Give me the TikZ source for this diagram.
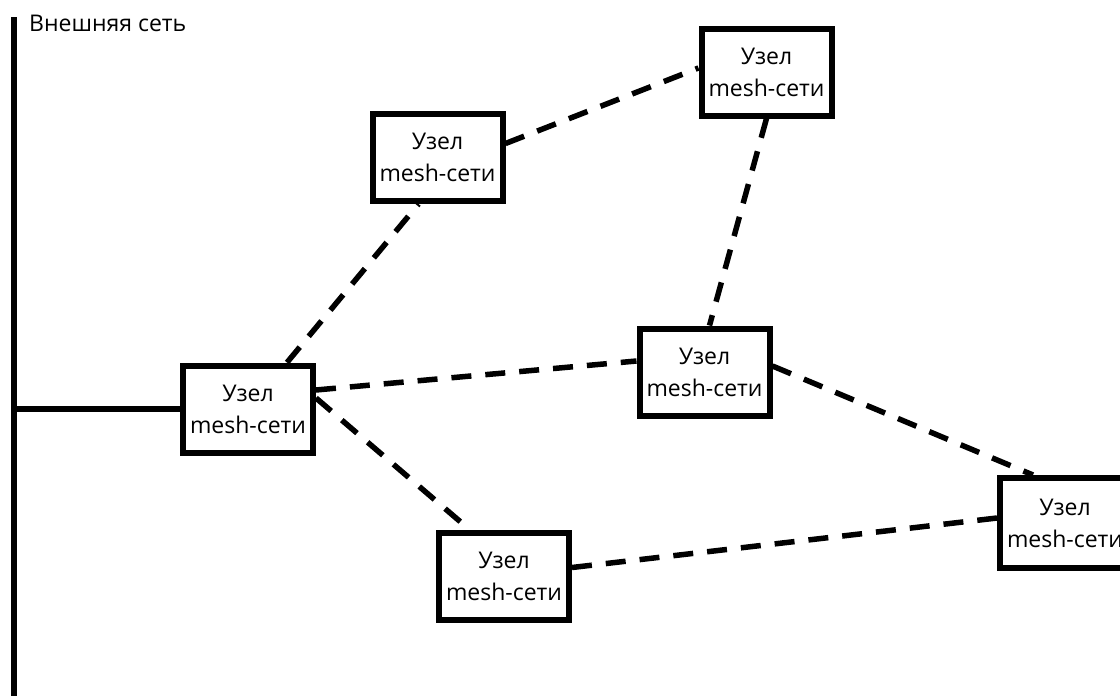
\documentclass[tikz,border=0pt]{standalone}
\usepackage{fontspec}
\setmainfont{Open Sans}
\begin{document}
\begin{tikzpicture}[x=1pt,y=-1pt,
  meshnode/.style={draw=black, line width=6pt, fill=white, rectangle,
    minimum width=130pt, minimum height=87pt, inner sep=0pt,
    align=center, font=\fontsize{23}{32}\selectfont},
  wire/.style={line width=6pt, black},
  radio/.style={line width=5.5pt, black, dash pattern=on 20pt off 14pt}]
  \clip (0,0) rectangle (1120,696);
  \fill[white] (0,0) rectangle (1120,696);

  % external network bus
  \coordinate (bustop) at (14,17);
  \coordinate (busbot) at (14,700);
  \draw[wire] (bustop) -- (busbot);
  \node[anchor=base west, inner sep=0pt, font=\fontsize{23}{28}\selectfont]
    (extlabel) at (29,31) {Внешняя сеть};

  % mesh nodes
  \node[meshnode] (b1) at (248,409)   {Узел\\mesh-сети};
  \node[meshnode] (b2) at (437.5,157.5) {Узел\\mesh-сети};
  \node[meshnode] (b3) at (766.5,72)  {Узел\\mesh-сети};
  \node[meshnode] (b4) at (704.5,372) {Узел\\mesh-сети};
  \node[meshnode] (b5) at (504,576.5) {Узел\\mesh-сети};
  \node[meshnode, minimum height=90pt] (b6) at (1065,523) {Узел\\mesh-сети};

  % wired uplink
  \draw[wire] (b1.west) -- (b1.west -| bustop);

  % wireless links
  \draw[radio] ([xshift=39pt]b1.north) -- ([xshift=-19pt]b2.south);
  \draw[radio] ([yshift=14pt]b2.east) -- ([yshift=4pt]b3.west);
  \draw[radio] (b3.south) -- ([xshift=5pt]b4.north);
  \draw[radio] ([yshift=19pt]b1.east) -- ([yshift=11pt]b4.west);
  \draw[radio] ([yshift=11pt]b1.east) -- ([xshift=-34pt]b5.north);
  \draw[radio] ([yshift=6pt]b4.east) -- ([xshift=-32pt]b6.north);
  \draw[radio] ([yshift=9pt]b5.east) -- ([yshift=5pt]b6.west);
\end{tikzpicture}
\end{document}
